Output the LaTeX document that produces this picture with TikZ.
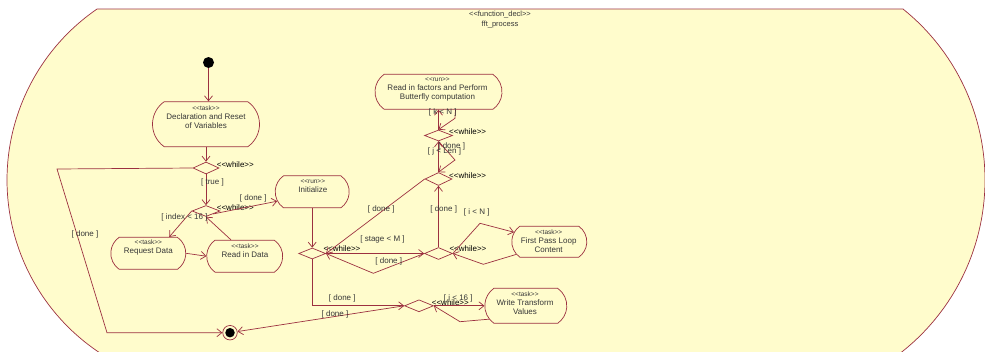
\documentclass[tikz,border=0pt]{standalone}
\usepackage{fontspec}
\setmainfont{Liberation Sans}
\usetikzlibrary{shapes.geometric,shapes.misc,arrows.meta,calc}
\definecolor{umlline}{RGB}{156,48,64}
\definecolor{umlfill}{RGB}{255,252,204}
\definecolor{umltext}{RGB}{55,55,55}
% stereotype text such as <<task>>, kerned so no guillemet ligature forms
\newcommand\umlst[2][6.5]{{\fontsize{#1}{9}\selectfont<\kern0pt<#2>\kern0pt>}}
\begin{document}
\begin{tikzpicture}[x=1pt,y=-1pt,
  flow/.style={draw=umlline, line width=0.7pt, -{Straight Barb[length=5pt,width=8pt]}},
  activity/.style={draw=umlline, line width=0.7pt, rounded rectangle,
    rounded rectangle arc length=110, inner sep=0pt},
  decision/.style={draw=umlline, line width=0.7pt, diamond, inner sep=0pt},
  body/.style={text=umltext, inner sep=0pt, align=center, font=\fontsize{8}{9}\selectfont},
  guard/.style={text=umltext, inner sep=0pt, font=\fontsize{8}{9}\selectfont},
  tag/.style={text=black, inner sep=0pt, anchor=west, font=\fontsize{8}{9}\selectfont},
]
\useasboundingbox (0,0) rectangle (985,351);

% enclosing function frame
\begin{scope}
  \clip (0,0) rectangle (985,351);
  \filldraw[fill=umlfill, draw=umlline, line width=0.7pt]
    (97,9) -- (903,9)
    -- plot[domain=-51.2:60, samples=90] ({765.7+219.3*cos(\x)}, {180+219.3*sin(\x)})
    -- plot[domain=120:235.5, samples=90] ({214.4+207.4*cos(\x)}, {180+207.4*sin(\x)})
    -- cycle;
\end{scope}
\node[body, font=\fontsize{7.5}{10}\selectfont] (title) at (500,20)
  {\umlst[7.5]{function\_decl}\\fft\_process};

% initial and final nodes
\node[circle, fill=black, minimum size=11pt, inner sep=0pt] (start) at (208.5,62.5) {};
\node[circle, draw=umlline, fill=umlfill, line width=0.7pt, minimum size=14.5pt, inner sep=0pt] (stop) at (230,332.7) {};
\node[circle, fill=black, minimum size=9.5pt, inner sep=0pt] (stopdot) at (stop) {};

% activities
\node[activity, minimum width=107pt, minimum height=45pt] (decl) at (206,124.2) {};
\node[body] (decltext) at (206,117) {\umlst{task}\\Declaration and Reset\\of Variables};
\node[activity, minimum width=75pt, minimum height=32pt] (reqdata) at (148.3,253.3) {};
\node[body] (reqtext) at (148.3,247.6) {\umlst{task}\\Request Data};
\node[activity, minimum width=76pt, minimum height=32pt] (readdata) at (244.7,256.2) {};
\node[body] (readtext) at (245,250.8) {\umlst{task}\\Read in Data};
\node[activity, minimum width=74pt, minimum height=32pt] (init) at (312.2,191.8) {};
\node[body] (inittext) at (312.8,186.5) {\umlst{run}\\Initialize};
\node[activity, minimum width=127pt, minimum height=35pt] (butterfly) at (438.5,91.8) {};
\node[body] (butterflytext) at (437.5,89.6) {\umlst{run}\\Read in factors and Perform\\Butterfly computation};
\node[activity, minimum width=75pt, minimum height=31pt] (firstpass) at (549.3,241.7) {};
\node[body] (firstpasstext) at (548.7,240.9) {\umlst{task}\\First Pass Loop\\Content};
\node[activity, minimum width=82pt, minimum height=35pt] (write) at (525.8,305.8) {};
\node[body] (writetext) at (525,303.4) {\umlst{task}\\Write Transform\\Values};

% decisions
\node[decision, minimum width=26pt, minimum height=12pt] (d1) at (206,168) {};
\node[decision, minimum width=28pt, minimum height=11pt] (d2) at (206,211) {};
\node[decision, minimum width=27pt, minimum height=11pt] (d3) at (312.2,253.5) {};
\node[decision, minimum width=29pt, minimum height=12pt] (d4) at (419,305.8) {};
\node[decision, minimum width=28pt, minimum height=12pt] (d5) at (438.5,253.5) {};
\node[decision, minimum width=27pt, minimum height=13pt] (d6) at (438.5,179) {};
\node[decision, minimum width=28pt, minimum height=11pt] (d7) at (438.5,135.5) {};

\node[tag] (w1) at (216.7,164.3) {\umlst[8]{while}};
\node[tag] (w2) at (216.7,207.7) {\umlst[8]{while}};
\node[tag] (w3) at (323.3,249) {\umlst[8]{while}};
\node[tag] (w4) at (431.7,302.3) {\umlst[8]{while}};
\node[tag] (w5) at (449.3,249) {\umlst[8]{while}};
\node[tag] (w6) at (449,175.7) {\umlst[8]{while}};
\node[tag] (w7) at (449,131.7) {\umlst[8]{while}};

% control flow
\draw[flow] (start) -- (start |- decl.north);
\draw[flow] (decl.south) -- (d1.north);
\draw[flow] (d1.west) -- (57,169) -- (107,332.7) -- (stop.west);
\draw[flow] (d1.south) -- (d2.north);
\draw[flow] (d2.west) -- (reqdata.38);
\draw[flow] (reqdata.east) -- (readdata.west);
\draw[flow] (readdata.130) -- (d2.south);
\draw[flow] (d2.south east) -- (init.195);
\draw[flow] (init.south) -- (d3.north);
\draw[flow] (d3.south) -- (d3.south |- d4.west) -- (d4.west);
\draw[flow] (d4.west) -- (stop);
\draw[flow] (d4.east) -- (write.west);
\draw[flow] (write.200) -- (460,321.7) -- (d4.east);
\draw[flow] (d3.east) -- (d5.west);
\draw[flow] (d5.west) -- (373.3,273.3) -- (d3.east);
\draw[flow] (d5.north) -- (d6.south);
\draw[flow] (d5.east) -- (480,223.3) -- (firstpass.165);
\draw[flow] (firstpass.201) -- (483.3,264.3) -- (d5.east);
\draw[flow] (d6.west) -- (d3.east);
\draw[flow] (d6.north) -- (d7.south);
\draw[flow] (d7.south) -- (455,160) -- (d6.north);
\draw[flow] (d7.north) -- (butterfly.south);
\draw[flow] ($(butterfly.south)+(17,0)$) -- (455,118.3) -- (d7.north);

% guards
\node[guard] (g1) at (85,234) {[ done ]};
\node[guard] (g2) at (212.5,182.7) {[ true ]};
\node[guard] (g3) at (184.5,217.3) {[ index < 16 ]};
\node[guard] (g4) at (253.3,198.3) {[ done ]};
\node[guard] (g5) at (342.3,298.3) {[ done ]};
\node[guard] (g6) at (335,314.3) {[ done ]};
\node[guard] (g7) at (458.3,298.3) {[ i < 16 ]};
\node[guard] (g8) at (382.5,239.3) {[ stage < M ]};
\node[guard] (g9) at (388.8,261) {[ done ]};
\node[guard] (g10) at (381.2,209) {[ done ]};
\node[guard] (g11) at (443.7,209) {[ done ]};
\node[guard] (g12) at (476.7,212.7) {[ i < N ]};
\node[guard] (g13) at (444.5,151.7) {[ j < Len ]};
\node[guard] (g14) at (451.7,146.7) {[ done ]};
\node[guard] (g15) at (442.8,112.7) {[ k < N ]};
\end{tikzpicture}
\end{document}
